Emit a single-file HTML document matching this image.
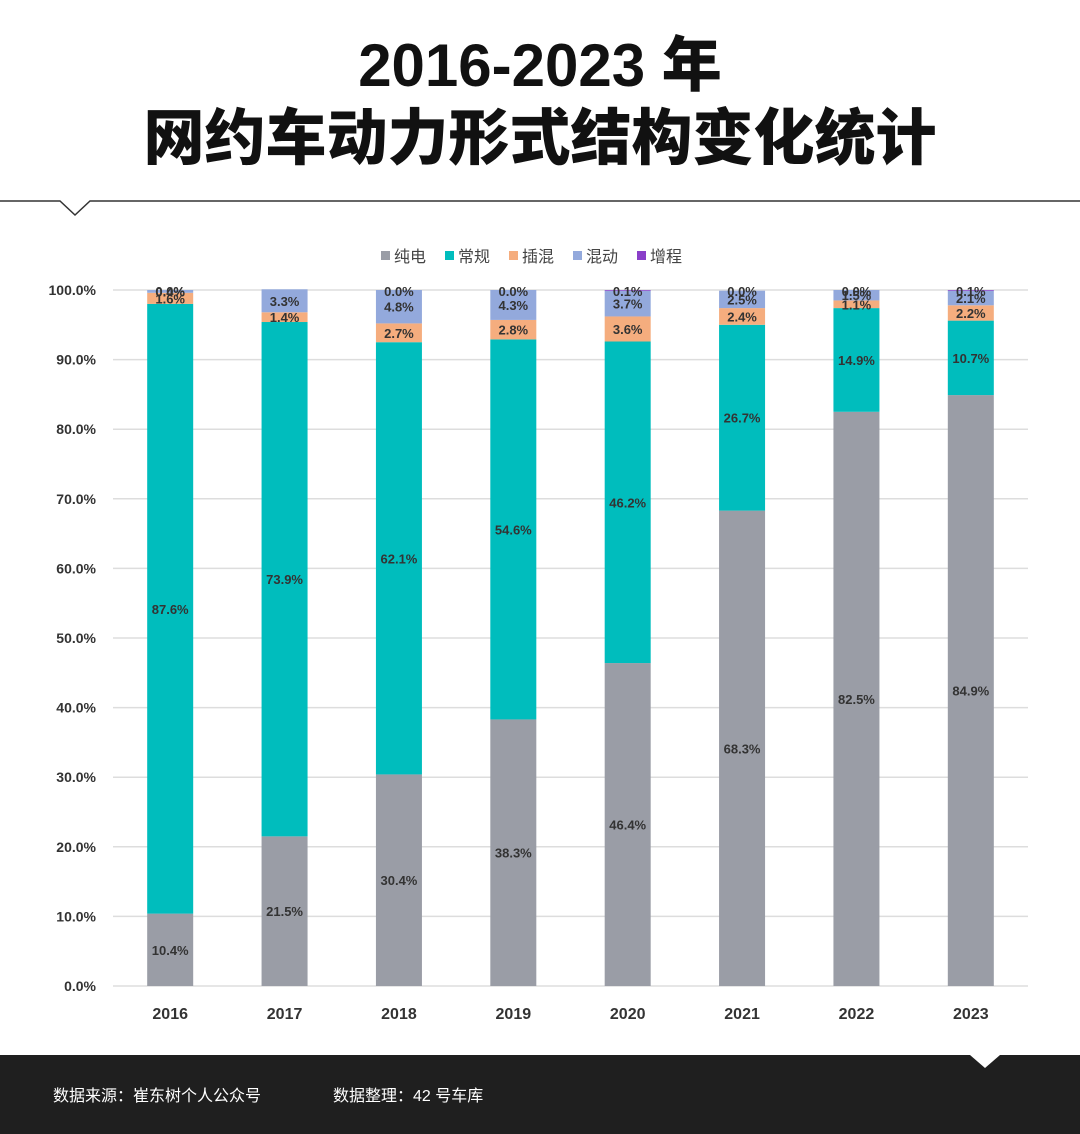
<!DOCTYPE html>
<html><head><meta charset="utf-8"><style>
body{margin:0;width:1080px;height:1134px;background:#fff;font-family:"Liberation Sans","Noto Sans CJK SC",sans-serif;overflow:hidden;position:relative}
.t{position:absolute;left:0;width:1080px;text-align:center;font-weight:900;color:#111;font-family:"Liberation Sans","Noto Sans CJK SC",sans-serif}
</style></head><body>
<div class="t" style="top:31px;font-size:60px;line-height:70px">2016-2023 年</div>
<div class="t" style="top:102px;font-size:61px;line-height:72px">网约车动力形式结构变化统计</div>
<svg id="c" width="1080" height="1134" style="position:absolute;left:0;top:0"></svg>
<script>
const years=['2016','2017','2018','2019','2020','2021','2022','2023'];
const seriesNames=['纯电','常规','插混','混动','增程'];
const bev=[10.4,21.5,30.4,38.3,46.4,68.3,82.5,84.9];
const ice=[87.6,73.9,62.1,54.6,46.2,26.7,14.9,10.7];
const phev=[1.6,1.4,2.7,2.8,3.6,2.4,1.1,2.2];
const hev=[0.4,3.3,4.8,4.3,3.7,2.5,1.5,2.1];
const erev=[0.0,0.0,0.0,0.0,0.1,0.0,0.0,0.1];
const yTicks=[0,10,20,30,40,50,60,70,80,90,100];
const colors=['#9a9da6','#00bdbd','#f5ad7e','#93a9dc','#8a3fc9'];
const series=[bev,ice,phev,hev,erev];
const NS='http://www.w3.org/2000/svg';
const svg=document.getElementById('c');
const x0=113,x1=1028,yb=986,yt=290;
const y=v=>yb-(v/100)*(yb-yt);
const bw=(x1-x0)/years.length;
const xc=i=>x0+bw*(i+0.5);
function mk(t,a,txt){const e=document.createElementNS(NS,t);for(const k in a)e.setAttribute(k,a[k]);if(txt!=null)e.textContent=txt;svg.appendChild(e);return e;}
let e=mk('path',{d:'M0 201 L60 201 L75 215 L90 201 L1080 201',fill:'none',stroke:'#333','stroke-width':1.5});


yTicks.forEach(v=>{
 let g=mk('line',{x1:x0,x2:x1,y1:y(v),y2:y(v),stroke:'#ddd','stroke-width':1.5});
 
 
 let l=mk('text',{x:96,y:y(v)+5,'text-anchor':'end','font-size':14,fill:'#333','font-weight':'bold'},v.toFixed(1)+'%');
 
 
});
years.forEach((yr,i)=>{
 let cum=0;
 series.forEach((s,k)=>{
  const v=s[i];
  const r=mk('rect',{x:xc(i)-23,y:y(cum+v),width:46,height:y(cum)-y(cum+v),fill:colors[k]});
  
  
  if(!(v===0&&i===1)){
   const ty=k==4?y(100)+6:(y(cum)+y(cum+v))/2+5;
   const t=mk('text',{x:xc(i),y:ty,'text-anchor':'middle','font-size':13,fill:'#333','font-weight':'bold'},v.toFixed(1)+'%');
   
   
  }
  cum+=v;
 });
 const xl=mk('text',{x:xc(i),y:1019,'text-anchor':'middle','font-size':16,fill:'#333','font-weight':'bold'},yr);
 
 
});
let lx=381;
seriesNames.forEach((n,k)=>{
 const r=mk('rect',{x:lx,y:251,width:9,height:9,fill:colors[k]});
 
 
 const t=mk('text',{x:lx+13,y:262,'font-size':16,fill:'#444'},n);
 
 
 lx+=64;
});
let f=mk('path',{d:'M0 1055 L970 1055 L985 1068 L1000 1055 L1080 1055 L1080 1134 L0 1134 Z',fill:'#1f1f1f'});


let f1=mk('text',{x:53,y:1101,'font-size':16,fill:'#fff'},'数据来源：崔东树个人公众号');


let f2=mk('text',{x:333,y:1101,'font-size':16,fill:'#fff'},'数据整理：42 号车库');


</script>
</body></html>
